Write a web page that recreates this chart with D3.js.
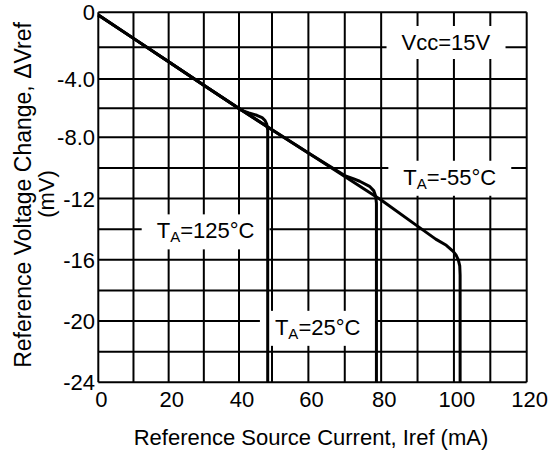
<!DOCTYPE html>
<html><head><meta charset="utf-8">
<script src="https://cdn.jsdelivr.net/npm/d3@7"></script>
<style>body{margin:0;background:#fff}svg{display:block}text{font-family:"Liberation Sans",Arial,sans-serif;fill:#000}</style>
</head><body>
<script>
// ---- data ----
const xTicks = [0, 20, 40, 60, 80, 100, 120];
const yTicks = [0, -4, -8, -12, -16, -20, -24];
const yTickLabels = ["0", "-4.0", "-8.0", "-12", "-16", "-20", "-24"];
const xGrid = d3.range(0, 121, 10);
const yGrid = d3.range(0, -25, -2);
const curve125 = [[0,-0.15],[10,-1.49],[20,-2.91],[30,-4.43],[40,-6.02],[40.8,-6.15],[43,-6.33],[45.4,-6.49],[47,-6.65],[47.9,-6.85],[48.4,-7.1],[48.7,-7.5],[48.7,-24]];
const curve25 = [[0,-0.15],[10,-1.49],[20,-2.91],[30,-4.43],[40,-6.02],[50,-7.48],[60,-9.03],[70,-10.5],[72.3,-10.7],[74.1,-10.87],[76.8,-11.2],[78.0,-11.5],[78.5,-11.85],[78.7,-12.3],[78.7,-24]];
const curveM55 = [[0,-0.15],[10,-1.49],[20,-2.91],[30,-4.43],[40,-6.02],[50,-7.48],[60,-9.03],[70,-10.56],[80,-12.1],[90,-13.8],[95,-14.65],[97.9,-15.05],[99.8,-15.45],[100.6,-15.7],[101.2,-16.0],[101.6,-16.4],[101.7,-17],[101.7,-24]];
const series = [curve125, curve25, curveM55];
const annotations = [
  {main:"Vcc=15V", sub:"", rest:"", x:85.6, y:-2.17},
  {main:"T", sub:"A", rest:"=125°C", x:16.6, y:-14.6},
  {main:"T", sub:"A", rest:"=-55°C", x:86.1, y:-11.1},
  {main:"T", sub:"A", rest:"=25°C", x:50.8, y:-20.9}
];
const xTitle = "Reference Source Current, Iref (mA)";
const yTitle1 = "Reference Voltage Change, \u0394Vref";
const yTitle2 = "(mV)";

// ---- drawing ----
const W = 555, H = 452;
const svg = d3.select("body").append("svg").attr("width", W).attr("height", H);
const x = d3.scaleLinear().domain([0, 40, 50, 120]).range([98.3, 239, 272, 526.7]);
const y = d3.scaleLinear().domain([0, -2, -4, -8, -24]).range([12.3, 47.3, 79, 137.3, 382.3]);

const g = svg.append("g");
g.selectAll(".vg").data(xGrid).enter().append("line")
  .attr("x1", d => x(d)).attr("x2", d => x(d)).attr("y1", y(0)).attr("y2", y(-24))
  .attr("stroke", "#000").attr("stroke-width", 2);
g.selectAll(".hg").data(yGrid).enter().append("line")
  .attr("y1", d => y(d)).attr("y2", d => y(d)).attr("x1", x(0)).attr("x2", x(120))
  .attr("stroke", "#000").attr("stroke-width", 2);

const boxG = svg.append("g");
const curveG = svg.append("g");
const textG = svg.append("g");
annotations.forEach(a => {
  const t = textG.append("text").attr("x", x(a.x)).attr("y", y(a.y)).attr("font-size", 22);
  t.append("tspan").text(a.main);
  if (a.sub) {
    t.append("tspan").text(a.sub).attr("font-size", 15).attr("dy", 4);
    t.append("tspan").text(a.rest).attr("dy", -4);
  }
  const bb = t.node().getBBox();
  boxG.append("rect").attr("x", bb.x - 15).attr("y", bb.y - 4).attr("width", bb.width + 30).attr("height", bb.height + 8)
    .attr("fill", "#fff");
});

const line = d3.line().x(d => x(d[0])).y(d => y(d[1]));
curveG.selectAll("path").data(series).enter().append("path")
  .attr("d", line).attr("fill", "none").attr("stroke", "#000").attr("stroke-width", 3)
  .attr("stroke-linejoin", "round");

svg.append("g").selectAll("text").data(xTicks).enter().append("text")
  .attr("x", d => x(d) + 3).attr("y", 407).attr("text-anchor", "middle").attr("font-size", 22).text(d => d);
svg.append("g").selectAll("text").data(yTicks).enter().append("text")
  .attr("x", 95).attr("y", d => y(d) + 8).attr("text-anchor", "end").attr("font-size", 22)
  .text((d, i) => yTickLabels[i]);

svg.append("text").attr("x", 311).attr("y", 445).attr("text-anchor", "middle").attr("font-size", 22).text(xTitle);
svg.append("text").attr("transform", "translate(31,195) rotate(-90)").attr("text-anchor", "middle").attr("font-size", 23).text(yTitle1);
svg.append("text").attr("transform", "translate(54,194) rotate(-90)").attr("text-anchor", "middle").attr("font-size", 22).text(yTitle2);
</script>
</body></html>
